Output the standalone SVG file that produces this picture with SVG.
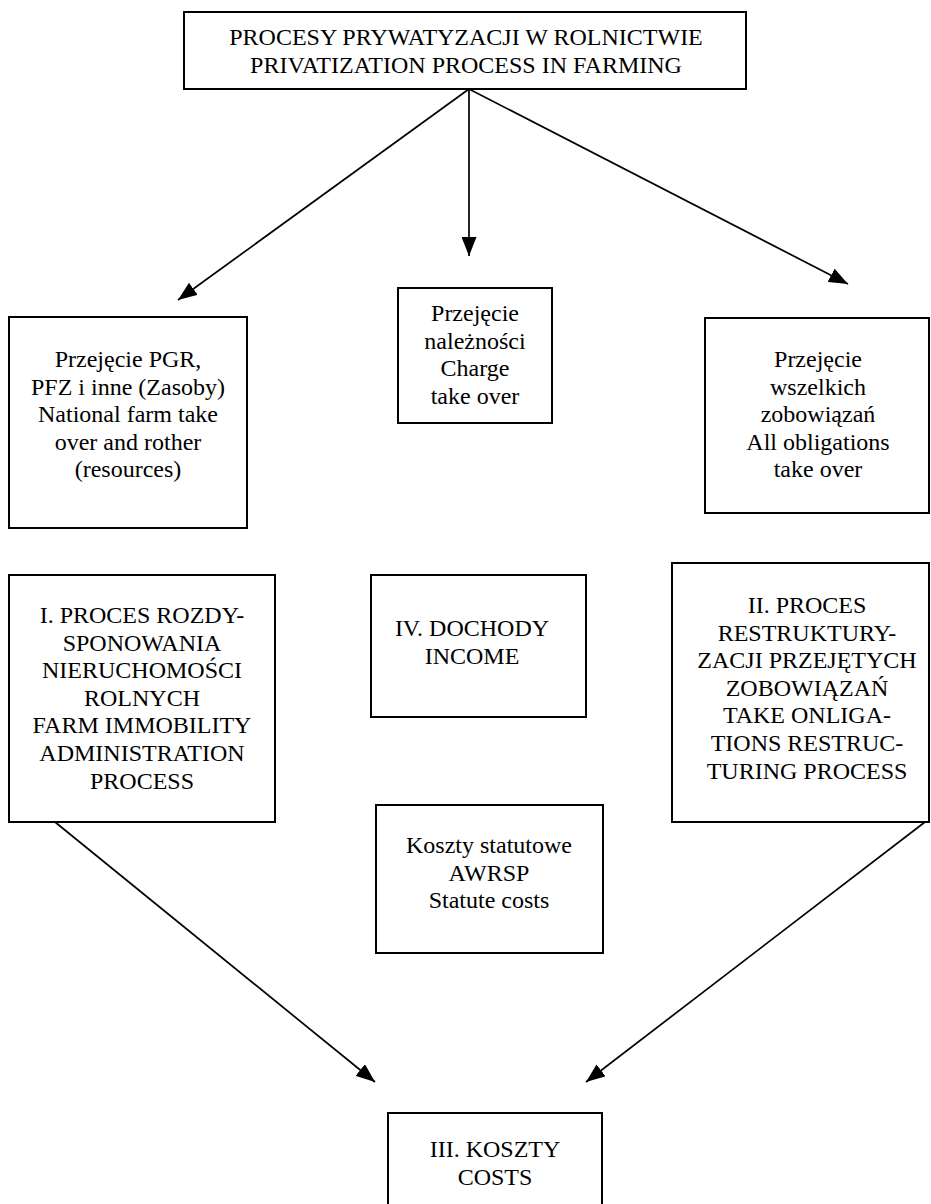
<svg xmlns="http://www.w3.org/2000/svg" width="931" height="1204" viewBox="0 0 931 1204">
<defs>
<style>
.box{fill:#fff;stroke:#000;stroke-width:2}
.t{font-family:"Liberation Serif","Times New Roman",serif;font-size:24px;fill:#000;text-anchor:middle}
.c{stroke:#000;stroke-width:1.7;fill:none;marker-end:url(#ah)}
</style>
<marker id="ah" markerUnits="userSpaceOnUse" markerWidth="19" markerHeight="15" refX="19" refY="7.5" orient="auto">
<path d="M0,0 L19,7.5 L0,15 z" fill="#000"/>
</marker>
</defs>
<rect width="931" height="1204" fill="#fff"/>
<g id="connectors">
<line class="c" x1="469" y1="89" x2="178" y2="300"/>
<line class="c" x1="469" y1="89" x2="469" y2="256"/>
<line class="c" x1="469" y1="89" x2="848" y2="284"/>
<line class="c" x1="55" y1="822" x2="375" y2="1082"/>
<line class="c" x1="925" y1="822" x2="586" y2="1082"/>
</g>
<g id="top">
<rect class="box" x="184" y="12" width="562" height="77"/>
<text class="t" x="466" y="45">PROCESY PRYWATYZACJI W ROLNICTWIE</text>
<text class="t" x="466" y="73">PRIVATIZATION PROCESS IN FARMING</text>
</g>
<g id="n1">
<rect class="box" x="9" y="317" width="238" height="211"/>
<text class="t" x="128" y="367">Przejęcie PGR,</text>
<text class="t" x="128" y="394.6">PFZ i inne (Zasoby)</text>
<text class="t" x="128" y="422.2">National farm take</text>
<text class="t" x="128" y="449.8">over and rother</text>
<text class="t" x="128" y="477.4">(resources)</text>
</g>
<g id="n2">
<rect class="box" x="398" y="288" width="154" height="135"/>
<text class="t" x="475" y="321">Przejęcie</text>
<text class="t" x="475" y="348.6">należności</text>
<text class="t" x="475" y="376.2">Charge</text>
<text class="t" x="475" y="403.8">take over</text>
</g>
<g id="n3">
<rect class="box" x="705" y="318" width="224" height="195"/>
<text class="t" x="818" y="367">Przejęcie</text>
<text class="t" x="818" y="394.6">wszelkich</text>
<text class="t" x="818" y="422.2">zobowiązań</text>
<text class="t" x="818" y="449.8">All obligations</text>
<text class="t" x="818" y="477.4">take over</text>
</g>
<g id="nI">
<rect class="box" x="9" y="575" width="266" height="247"/>
<text class="t" x="142" y="623">I. PROCES ROZDY-</text>
<text class="t" x="142" y="650.6">SPONOWANIA</text>
<text class="t" x="142" y="678.2">NIERUCHOMOŚCI</text>
<text class="t" x="142" y="705.8">ROLNYCH</text>
<text class="t" x="142" y="733.4">FARM IMMOBILITY</text>
<text class="t" x="142" y="761">ADMINISTRATION</text>
<text class="t" x="142" y="788.6">PROCESS</text>
</g>
<g id="nIV">
<rect class="box" x="371" y="575" width="215" height="142"/>
<text class="t" x="472" y="636">IV. DOCHODY</text>
<text class="t" x="472" y="663.6">INCOME</text>
</g>
<g id="nII">
<rect class="box" x="672" y="563" width="257" height="259"/>
<text class="t" x="807" y="613">II. PROCES</text>
<text class="t" x="807" y="640.6">RESTRUKTURY-</text>
<text class="t" x="807" y="668.2">ZACJI PRZEJĘTYCH</text>
<text class="t" x="807" y="695.8">ZOBOWIĄZAŃ</text>
<text class="t" x="807" y="723.4">TAKE ONLIGA-</text>
<text class="t" x="807" y="751">TIONS RESTRUC-</text>
<text class="t" x="807" y="778.6">TURING PROCESS</text>
</g>
<g id="nK">
<rect class="box" x="376" y="805" width="227" height="148"/>
<text class="t" x="489" y="853">Koszty statutowe</text>
<text class="t" x="489" y="880.6">AWRSP</text>
<text class="t" x="489" y="908.2">Statute costs</text>
</g>
<g id="nIII">
<rect class="box" x="388" y="1113" width="214" height="110"/>
<text class="t" x="495" y="1157">III. KOSZTY</text>
<text class="t" x="495" y="1184.6">COSTS</text>
</g>
</svg>
